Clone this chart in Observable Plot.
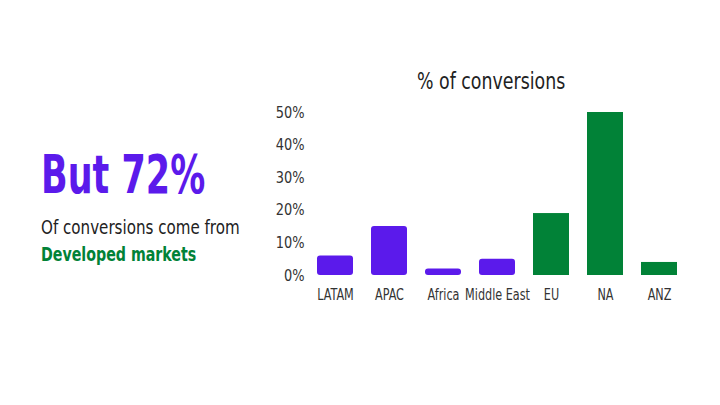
<!DOCTYPE html>
<html>
<head>
<meta charset="utf-8">
<script src="https://cdn.jsdelivr.net/npm/d3@7"></script>
<script src="https://cdn.jsdelivr.net/npm/@observablehq/plot@0.6"></script>
<style>
  html, body { margin: 0; padding: 0; background: #fff; }
  #wrap { position: relative; width: 720px; height: 405px; overflow: hidden;
    font-family: "Liberation Sans Narrow", "DejaVu Sans Condensed", "Roboto", sans-serif; }
  #chart { position: absolute; left: 0; top: 0; }
  .sq { position: absolute; transform-origin: 0 0; white-space: nowrap; }
  #title { left: 417px; top: 68px; font-size: 23px; color: #222; transform: scaleX(0.84); }
  #big { left: 41px; top: 143px; font-size: 54px; font-weight: bold; color: #5b1aeb; transform: scaleX(0.72); }
  #sub1 { left: 41px; top: 215px; font-size: 20px; color: #222; transform: scaleX(0.84); }
  #sub2 { left: 41px; top: 242px; font-size: 20px; font-weight: bold; color: #018237; transform: scaleX(0.79); }
</style>
</head>
<body>
<div id="wrap">
  <div id="big" class="sq">But 72%</div>
  <div id="sub1" class="sq">Of conversions come from</div>
  <div id="sub2" class="sq">Developed markets</div>
  <div id="title" class="sq">% of conversions</div>
  <div id="chart"></div>
</div>
<script>
const regions = ["LATAM", "APAC", "Africa", "Middle East", "EU", "NA", "ANZ"];
const shares = [6, 15, 2, 5, 19, 50, 4];
const groups = ["Emerging", "Emerging", "Emerging", "Emerging", "Developed", "Developed", "Developed"];
const yTicks = [0, 10, 20, 30, 40, 50];

const data = regions.map((r, i) => ({region: r, share: shares[i], group: groups[i]}));

const chart = Plot.plot({
  width: 720,
  height: 405,
  marginLeft: 298,
  marginRight: 23,
  marginTop: 112,
  marginBottom: 130,
  style: {fontFamily: '"Liberation Sans Narrow", "DejaVu Sans Condensed", sans-serif', fontSize: "16px", color: "#333", background: "transparent"},
  x: {domain: regions, padding: 0.33, label: null},
  y: {domain: [0, 50], label: null},
  color: {domain: ["Emerging", "Developed"], range: ["#5b1aeb", "#018237"]},
  marks: [
    Plot.barY(data.filter(d => d.group === "Emerging"), {x: "region", y: "share", fill: "group", rx: 3}),
    Plot.barY(data.filter(d => d.group === "Developed"), {x: "region", y: "share", fill: "group"}),
    Plot.axisY({ticks: yTicks, tickSize: 0, tickPadding: 0, dx: 6, tickFormat: d => d + "%", fontSize: 16}),
    Plot.axisX({tickSize: 0, tickPadding: 13, fontSize: 16})
  ]
});
// condense axis labels horizontally (no condensed font available offline)
function squeeze(sel, sx) {
  d3.select(chart).selectAll(sel).each(function() {
    const t = this.getAttribute("transform") || "";
    const xa = this.getAttribute("x");
    if (xa !== null && !isNaN(+xa)) this.setAttribute("x", (+xa) / sx);
    this.setAttribute("transform", `${t} scale(${sx},1)`);
  });
}
squeeze("g[aria-label='x-axis tick label'] text", 0.78);
squeeze("g[aria-label='y-axis tick label'] text", 0.9);
document.getElementById("chart").appendChild(chart);
</script>
</body>
</html>
